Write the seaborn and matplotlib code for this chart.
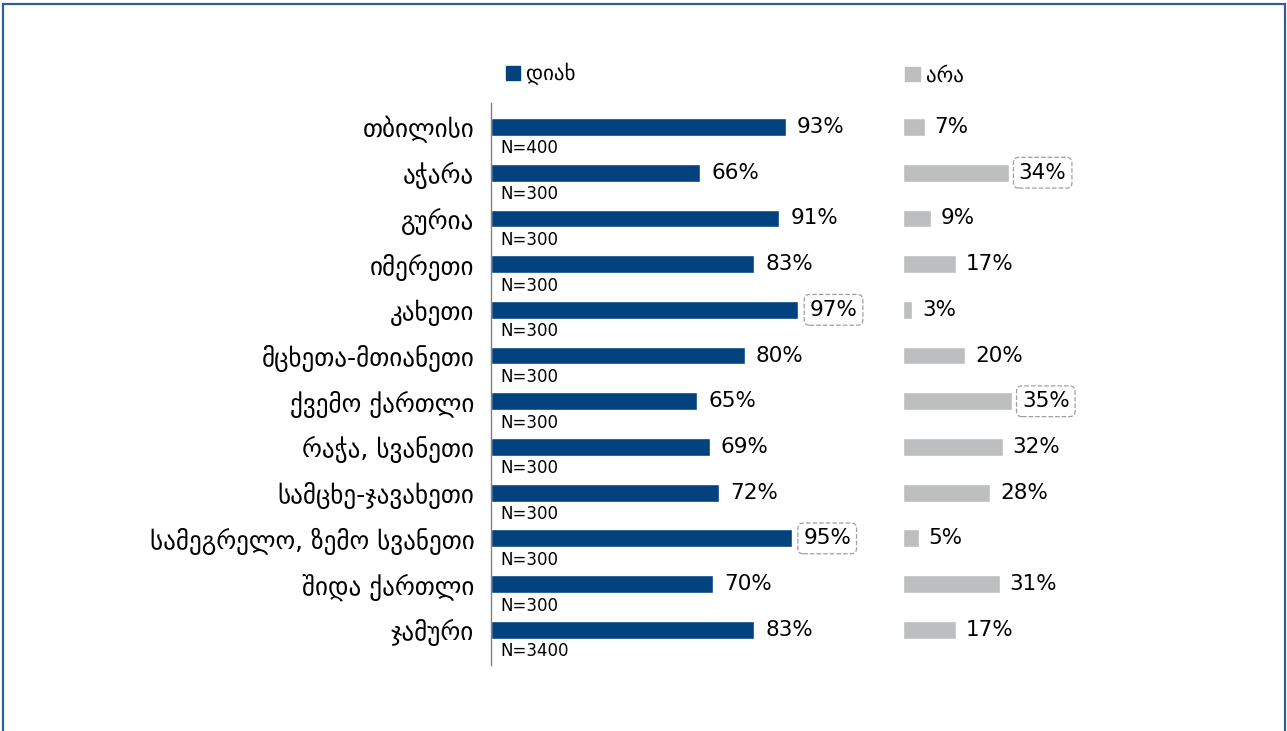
import matplotlib
matplotlib.use("Agg")
import matplotlib.pyplot as plt
import pandas as pd
import seaborn as sns
from matplotlib.patches import Patch, Rectangle

regions = ["თბილისი", "აჭარა", "გურია", "იმერეთი", "კახეთი", "მცხეთა-მთიანეთი",
           "ქვემო ქართლი", "რაჭა, სვანეთი", "სამცხე-ჯავახეთი",
           "სამეგრელო, ზემო სვანეთი", "შიდა ქართლი", "ჯამური"]
yes_pct = [93, 66, 91, 83, 97, 80, 65, 69, 72, 95, 70, 83]
no_pct = [7, 34, 9, 17, 3, 20, 35, 32, 28, 5, 31, 17]
sample_n = ["N=400", "N=300", "N=300", "N=300", "N=300", "N=300", "N=300",
            "N=300", "N=300", "N=300", "N=300", "N=3400"]
highlight_yes = ["კახეთი", "სამეგრელო, ზემო სვანეთი"]
highlight_no = ["აჭარა", "ქვემო ქართლი"]

BLUE = "#02427f"
GREY = "#bdbec0"

df = pd.DataFrame({"region": regions, "yes": yes_pct, "no": no_pct, "n": sample_n})

sns.set_theme(style="white")
plt.rcParams["font.family"] = ["DejaVu Sans"]
plt.rcParams["text.color"] = "black"

W, H = 1287, 731
fig = plt.figure(figsize=(W / 100, H / 100), dpi=100)

# frame around the chart (bottom edge runs off the picture)
fig.patches.append(Rectangle((3 / W, -0.05), 1282 / W, 1.05 - 4 / H,
                             transform=fig.transFigure, fill=False,
                             ec="#2e5f98", lw=1.6))

top, bot = 103, 665
ax1 = fig.add_axes([491 / W, 1 - bot / H, 317 / W, (bot - top) / H])
ax2 = fig.add_axes([903 / W, 1 - bot / H, 312 / W, (bot - top) / H])

sns.barplot(data=df, y="region", x="yes", orient="h", color=BLUE,
            width=0.39, ax=ax1, saturation=1)
sns.barplot(data=df, y="region", x="no", orient="h", color=GREY,
            width=0.39, ax=ax2, saturation=1)

box = dict(boxstyle="round,pad=0.25", fc="none", ec="#a0a0a0", ls="--", lw=0.9)

for ax in (ax1, ax2):
    ax.set_xlim(0, 100)
    ax.set_ylim(11.77, -0.525)
    ax.set_xlabel("")
    ax.set_ylabel("")
    ax.set_xticks([])
    for s in ax.spines.values():
        s.set_visible(False)
    ax.patch.set_alpha(0)

ax1.spines["left"].set_visible(True)
ax1.spines["left"].set_color("#808080")
ax1.spines["left"].set_linewidth(1)
ax1.tick_params(axis="y", length=0, pad=12, labelsize=18, labelcolor="black")
ax2.set_yticks([])

for i, row in df.iterrows():
    ax1.annotate(f"{row['yes']}%", (row["yes"], i), xytext=(8, 0),
                 textcoords="offset points", va="center", ha="left", fontsize=15.5,
                 bbox=box if row["region"] in highlight_yes else None)
    ax2.annotate(f"{row['no']}%", (row["no"], i), xytext=(7, 0),
                 textcoords="offset points", va="center", ha="left", fontsize=15.5,
                 bbox=box if row["region"] in highlight_no else None)
    ax1.text(3, i + 0.47, row["n"], va="center", ha="left", fontsize=12)

ax1.legend(handles=[Patch(color=BLUE, label="დიახ")], loc="lower left",
           bbox_to_anchor=(0.013, 1.013), frameon=False, fontsize=15,
           handlelength=0.7, handleheight=0.7, handletextpad=0.3, borderpad=0)
ax2.legend(handles=[Patch(color=GREY, label="არა")], loc="lower left",
           bbox_to_anchor=(-0.026, 1.013), frameon=False, fontsize=15,
           handlelength=0.7, handleheight=0.7, handletextpad=0.3, borderpad=0)

fig.savefig("out.png", dpi=100, facecolor="white")
